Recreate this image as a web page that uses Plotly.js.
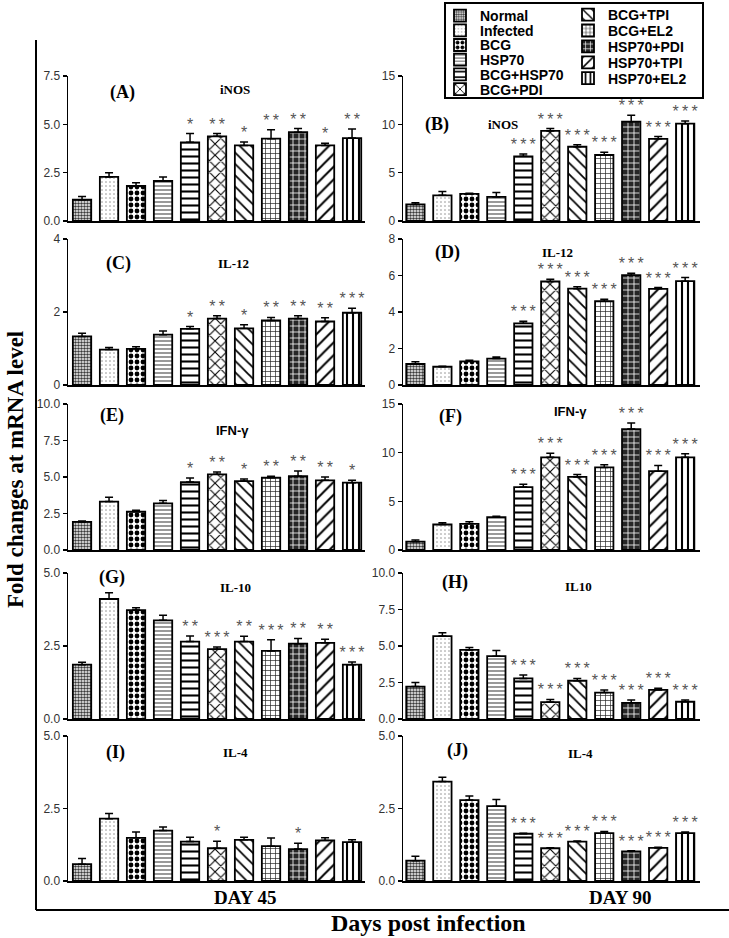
<!DOCTYPE html>
<html><head><meta charset="utf-8">
<script src="https://cdn.plot.ly/plotly-3.0.1.min.js"></script>
<style>html,body{margin:0;padding:0;background:#fff;}#chart{width:729px;height:938px;}</style>
</head><body><div id="chart"></div>
<script>
// ---------- DATA ----------
const groups = ["Normal","Infected","BCG","HSP70","BCG+HSP70","BCG+PDI","BCG+TPI","BCG+EL2","HSP70+PDI","HSP70+TPI","HSP70+EL2"];

// (A) iNOS, day 45
const A_mean = [1.10, 2.28, 1.81, 2.07, 4.07, 4.38, 3.91, 4.26, 4.59, 3.91, 4.29];
const A_sem  = [0.17, 0.22, 0.17, 0.20, 0.45, 0.14, 0.17, 0.46, 0.19, 0.11, 0.47];
const A_sig  = ["","","","","*","**","*","**","**","*","**"];
const A_ticks = [0, 2.5, 5, 7.5];
// (B) iNOS, day 90
const B_mean = [1.71, 2.66, 2.80, 2.49, 6.69, 9.32, 7.68, 6.83, 10.27, 8.50, 10.07];
const B_sem  = [0.17, 0.40, 0.07, 0.45, 0.24, 0.24, 0.20, 0.27, 0.68, 0.24, 0.27];
const B_sig  = ["","","","","***","***","***","***","***","***","***"];
const B_ticks = [0, 5, 10, 15];
// (C) IL-12, day 45
const C_mean = [1.33, 0.97, 0.99, 1.38, 1.54, 1.82, 1.55, 1.77, 1.82, 1.74, 1.98];
const C_sem  = [0.09, 0.06, 0.06, 0.10, 0.06, 0.08, 0.10, 0.08, 0.08, 0.10, 0.12];
const C_sig  = ["","","","","*","**","*","**","**","**","***"];
const C_ticks = [0, 2, 4];
// (D) IL-12, day 90
const D_mean = [1.15, 1.00, 1.30, 1.45, 3.38, 5.67, 5.28, 4.59, 6.02, 5.27, 5.69];
const D_sem  = [0.12, 0.03, 0.05, 0.09, 0.12, 0.13, 0.11, 0.11, 0.11, 0.07, 0.20];
const D_sig  = ["","","","","***","***","***","***","***","***","***"];
const D_ticks = [0, 2, 4, 6, 8];
// (E) IFN-γ, day 45
const E_mean = [1.92, 3.32, 2.62, 3.20, 4.65, 5.18, 4.72, 4.95, 5.05, 4.77, 4.61];
const E_sem  = [0.07, 0.30, 0.11, 0.19, 0.28, 0.17, 0.14, 0.10, 0.36, 0.23, 0.16];
const E_sig  = ["","","","","*","**","*","**","**","**","*"];
const E_ticks = [0, 2.5, 5, 7.5, 10];
// (F) IFN-γ, day 90
const F_mean = [0.86, 2.62, 2.69, 3.38, 6.47, 9.52, 7.51, 8.48, 12.42, 8.10, 9.52];
const F_sem  = [0.17, 0.17, 0.21, 0.10, 0.28, 0.41, 0.24, 0.27, 0.62, 0.59, 0.38];
const F_sig  = ["","","","","***","***","***","***","***","***","***"];
const F_ticks = [0, 5, 10, 15];
// (G) IL-10, day 45
const G_mean = [1.86, 4.11, 3.73, 3.38, 2.65, 2.39, 2.65, 2.33, 2.58, 2.61, 1.86];
const G_sem  = [0.08, 0.21, 0.08, 0.17, 0.19, 0.08, 0.18, 0.38, 0.18, 0.12, 0.09];
const G_sig  = ["","","","","**","***","**","***","**","**","***"];
const G_ticks = [0, 2.5, 5];
// (H) IL10, day 90
const H_mean = [2.22, 5.68, 4.73, 4.30, 2.78, 1.16, 2.62, 1.81, 1.11, 1.99, 1.18];
const H_sem  = [0.28, 0.23, 0.16, 0.40, 0.23, 0.18, 0.16, 0.18, 0.19, 0.11, 0.12];
const H_sig  = ["","","","","***","***","***","***","***","***","***"];
const H_ticks = [0, 2.5, 5, 7.5, 10];
// (I) IL-4, day 45
const I_mean = [0.58, 2.15, 1.49, 1.74, 1.36, 1.13, 1.42, 1.20, 1.10, 1.40, 1.34];
const I_sem  = [0.20, 0.18, 0.20, 0.12, 0.15, 0.24, 0.09, 0.28, 0.20, 0.09, 0.08];
const I_sig  = ["","","","","","*","","","*","",""];
const I_ticks = [0, 2.5, 5];
// (J) IL-4, day 90
const J_mean = [0.70, 3.43, 2.79, 2.58, 1.63, 1.13, 1.36, 1.65, 1.02, 1.14, 1.65];
const J_sem  = [0.15, 0.15, 0.14, 0.23, 0.02, 0.02, 0.02, 0.06, 0.02, 0.02, 0.04];
const J_sig  = ["","","","","***","***","***","***","***","***","***"];
const J_ticks = [0, 2.5, 5];

// ---------- STYLE / LAYOUT ----------
const W = 729, H = 938;
const px = x => x / W, py = y => 1 - y / H;

const groupStyles = [
  {shape:'.',  fg:'#3a3a3a', bg:'#ffffff', size:3, sol:0.55},
  {shape:'.',  fg:'#8a8a8a', bg:'#ffffff', size:4, sol:0.12},
  {shape:'.',  fg:'#000000', bg:'#ffffff', size:6, sol:0.5},
  {shape:'-',  fg:'#555555', bg:'#ffffff', size:4, sol:0.3},
  {shape:'-',  fg:'#000000', bg:'#ffffff', size:7, sol:0.3},
  {shape:'x',  fg:'#000000', bg:'#ffffff', size:8, sol:0.25},
  {shape:'\\', fg:'#000000', bg:'#ffffff', size:8, sol:0.22},
  {shape:'+',  fg:'#222222', bg:'#ffffff', size:5, sol:0.25},
  {shape:'+',  fg:'#ffffff', bg:'#262626', size:6, sol:0.25},
  {shape:'/',  fg:'#000000', bg:'#ffffff', size:9, sol:0.22},
  {shape:'|',  fg:'#000000', bg:'#ffffff', size:6, sol:0.35}
];
// legend is two columns: first six groups on the left, last five on the right
const legendCol1 = 6;

const rowsPx = [[76,221],[239,385],[404,550],[573,719],[736,881]];
const colsPx = [[68,365],[403,700]];
const colRange = [[-0.52,10.48],[-0.46,10.55]];

const panels = [
  {L:'A', m:A_mean, s:A_sem, g:A_sig, t:A_ticks, fmt:'.1f', r:0, c:0, gene:'iNOS',  lp:[122,92],  gp:[235,89],  serif:true},
  {L:'B', m:B_mean, s:B_sem, g:B_sig, t:B_ticks, fmt:'d',   r:0, c:1, gene:'iNOS',  lp:[437,125], gp:[503,125], serif:true},
  {L:'C', m:C_mean, s:C_sem, g:C_sig, t:C_ticks, fmt:'d',   r:1, c:0, gene:'IL-12', lp:[118,263], gp:[233,263], serif:true},
  {L:'D', m:D_mean, s:D_sem, g:D_sig, t:D_ticks, fmt:'d',   r:1, c:1, gene:'IL-12', lp:[447,253], gp:[557,252], serif:true},
  {L:'E', m:E_mean, s:E_sem, g:E_sig, t:E_ticks, fmt:'.1f', r:2, c:0, gene:'IFN-γ', lp:[112,415], gp:[232,430], serif:false},
  {L:'F', m:F_mean, s:F_sem, g:F_sig, t:F_ticks, fmt:'d',   r:2, c:1, gene:'IFN-γ', lp:[450,417], gp:[570,412], serif:false},
  {L:'G', m:G_mean, s:G_sem, g:G_sig, t:G_ticks, fmt:'.1f', r:3, c:0, gene:'IL-10', lp:[112,577], gp:[235,587], serif:true},
  {L:'H', m:H_mean, s:H_sem, g:H_sig, t:H_ticks, fmt:'.1f', r:3, c:1, gene:'IL10',  lp:[455,582], gp:[578,586], serif:true},
  {L:'I', m:I_mean, s:I_sem, g:I_sig, t:I_ticks, fmt:'.1f', r:4, c:0, gene:'IL-4',  lp:[115,752], gp:[235,752], serif:true},
  {L:'J', m:J_mean, s:J_sem, g:J_sig, t:J_ticks, fmt:'.1f', r:4, c:1, gene:'IL-4',  lp:[458,750], gp:[580,753], serif:true}
];

const SERIF = 'Liberation Serif, Times New Roman, serif';
const SANS = 'Liberation Sans, Arial, sans-serif';
const legFont = {family:SANS, size:14, color:'#000', weight:'bold'};

const traces = [];
const layout = {
  width: W, height: H,
  margin: {l:0, r:0, t:0, b:0},
  paper_bgcolor: '#ffffff', plot_bgcolor: 'rgba(0,0,0,0)',
  barmode: 'overlay',
  showlegend: true,
  font: {family: SANS, color: '#000'},
  legend: {x: px(440), y: 1, xanchor:'left', yanchor:'top', bgcolor:'rgba(0,0,0,0)', borderwidth:0,
           font: legFont, itemwidth:30, tracegroupgap:0, traceorder:'normal'},
  legend2: {x: px(568), y: 1, xanchor:'left', yanchor:'top', bgcolor:'rgba(0,0,0,0)', borderwidth:0,
           font: legFont, itemwidth:30, tracegroupgap:0, traceorder:'normal'},
  annotations: [],
  shapes: [
    {type:'rect', xref:'paper', yref:'paper', x0:px(445), x1:px(703), y0:py(98), y1:py(3), line:{color:'#000', width:2}},
    {type:'line', xref:'paper', yref:'paper', x0:px(36), x1:px(36), y0:py(40), y1:py(910), line:{color:'#000', width:2}},
    {type:'line', xref:'paper', yref:'paper', x0:px(36), x1:1, y0:py(910), y1:py(910), line:{color:'#000', width:2}}
  ]
};

panels.forEach((p, k) => {
  const n = k + 1;
  const xa = n === 1 ? 'x' : 'x' + n;
  const ya = n === 1 ? 'y' : 'y' + n;
  const xKey = n === 1 ? 'xaxis' : 'xaxis' + n;
  const yKey = n === 1 ? 'yaxis' : 'yaxis' + n;
  const rp = rowsPx[p.r], cp = colsPx[p.c];
  layout[xKey] = {
    domain: [px(cp[0]), px(cp[1])], anchor: ya, type: 'category',
    categoryorder: 'array', categoryarray: groups,
    range: colRange[p.c], showline: true, linecolor: '#000', linewidth: 2,
    showticklabels: false, ticks: '', showgrid: false, zeroline: false, fixedrange: true
  };
  layout[yKey] = {
    domain: [py(rp[1]), py(rp[0])], anchor: xa,
    range: [0, p.t[p.t.length - 1]], tickvals: p.t, tickformat: p.fmt,
    showline: true, linecolor: '#000', linewidth: 1.5,
    ticks: 'outside', ticklen: 4, tickwidth: 1.2, tickcolor: '#000',
    tickfont: {family: SANS, size: 12, color: '#333'},
    showgrid: false, zeroline: false, fixedrange: true
  };
  groups.forEach((gname, i) => {
    const st = groupStyles[i];
    traces.push({
      type: 'bar', x: [gname], y: [p.m[i]], xaxis: xa, yaxis: ya,
      name: gname, showlegend: k === 0,
      legend: i < legendCol1 ? 'legend' : 'legend2',
      width: 0.68,
      marker: {color: st.bg, line: {color: '#000', width: 1.8},
               pattern: {shape: st.shape, fgcolor: st.fg, bgcolor: st.bg, size: st.size, solidity: st.sol, fillmode: 'replace'}},
      error_y: {type: 'data', symmetric: false, array: [p.s[i]], arrayminus: [0], color: '#000', thickness: 1.5, width: 4},
      hoverinfo: 'skip'
    });
  });
  traces.push({
    type: 'scatter', mode: 'text', x: groups, y: p.m.map((v, i) => v + p.s[i]),
    text: p.g.map(s => s.split('').join('\u2009')), textposition: 'top center', cliponaxis: false,
    textfont: {family: SANS, size: 16, color: '#555'},
    xaxis: xa, yaxis: ya, showlegend: false, hoverinfo: 'skip'
  });
  layout.annotations.push({xref:'paper', yref:'paper', x: px(p.lp[0]), y: py(p.lp[1]), text: '<b>(' + p.L + ')</b>',
    showarrow: false, xanchor: 'center', yanchor: 'middle', font: {family: SERIF, size: 18, color: '#000'}});
  layout.annotations.push({xref:'paper', yref:'paper', x: px(p.gp[0]), y: py(p.gp[1]), text: '<b>' + p.gene + '</b>',
    showarrow: false, xanchor: 'center', yanchor: 'middle',
    font: {family: p.serif ? SERIF : SANS, size: 13, color: '#000'}});
});

layout.annotations.push({xref:'paper', yref:'paper', x: px(245), y: py(897), text: '<b>DAY 45</b>', showarrow:false,
  xanchor:'center', yanchor:'middle', font:{family:SERIF, size:19, color:'#000'}});
layout.annotations.push({xref:'paper', yref:'paper', x: px(620), y: py(897), text: '<b>DAY 90</b>', showarrow:false,
  xanchor:'center', yanchor:'middle', font:{family:SERIF, size:19, color:'#000'}});
layout.annotations.push({xref:'paper', yref:'paper', x: px(428), y: py(923), text: '<b>Days post infection</b>', showarrow:false,
  xanchor:'center', yanchor:'middle', font:{family:SERIF, size:24, color:'#000'}});
layout.annotations.push({xref:'paper', yref:'paper', x: px(15), y: py(470), text: '<b>Fold changes at mRNA level</b>', showarrow:false,
  textangle: -90, xanchor:'center', yanchor:'middle', font:{family:SERIF, size:23, color:'#000'}});

// legend rows: [shift of first row (px), row pitch (px)] per legend column
const legendRows = {legend: [0, 14.7], legend2: [-1, 15.9]};

function tightenLegends(gd) {
  Object.keys(legendRows).forEach(id => {
    const items = gd.querySelectorAll('g.' + id + ' g.traces');
    let y0 = null;
    items.forEach((el, i) => {
      const m = /translate\(\s*([-\d.eE]+)[,\s]+([-\d.eE]+)\s*\)/.exec(el.getAttribute('transform') || '');
      if (!m) return;
      if (y0 === null) y0 = parseFloat(m[2]) + legendRows[id][0];
      el.setAttribute('transform', 'translate(' + m[1] + ',' + (y0 + i * legendRows[id][1]) + ')');
    });
  });
}

Plotly.newPlot('chart', traces, layout, {staticPlot: true, displayModeBar: false}).then(gd => {
  tightenLegends(gd);
});
</script>
</body></html>
